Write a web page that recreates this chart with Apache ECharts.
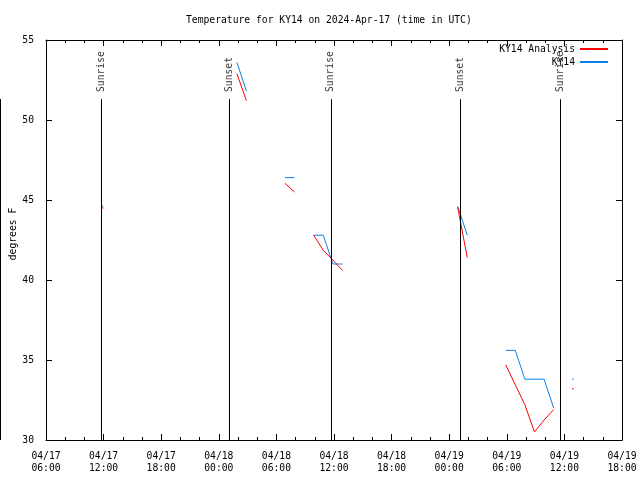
<!DOCTYPE html>
<html>
<head>
<meta charset="utf-8">
<script src="https://cdn.jsdelivr.net/npm/echarts@6/dist/echarts.min.js"></script>
<style>html,body{margin:0;padding:0;background:#fff}#c{width:640px;height:480px}</style>
</head>
<body>
<div id="c"></div>
<script>
// Observation times (UTC)
const obsTimes = [
  '2024-04-17 11:53',
  '2024-04-18 01:53','2024-04-18 02:53',
  '2024-04-18 06:53','2024-04-18 07:53',
  '2024-04-18 09:53','2024-04-18 10:53','2024-04-18 11:53','2024-04-18 12:53',
  '2024-04-19 00:53','2024-04-19 01:53',
  '2024-04-19 05:53','2024-04-19 06:53','2024-04-19 07:53','2024-04-19 08:53','2024-04-19 09:53','2024-04-19 10:53',
  '2024-04-19 12:53'
];
const ky14 = [44.6, 53.6, 51.8, 46.4, 46.4, 42.8, 42.8, 41.0, 41.0, 44.6, 42.8, 35.6, 35.6, 33.8, 33.8, 33.8, 32.0, 33.8];
const ky14Analysis = [44.5, 52.9, 51.2, 46.05, 45.5, 42.8, 41.85, 41.25, 40.6, 44.55, 41.4, 34.7, 33.45, 32.2, 30.5, 31.25, 31.9, 33.2];

const sunNames = ['Sunrise','Sunset','Sunrise','Sunset','Sunrise'];
const sunTimes = ['2024-04-17 11:44','2024-04-18 01:04','2024-04-18 11:40','2024-04-19 01:09','2024-04-19 11:34'];

const xTickLabels = ['04/17\n06:00','04/17\n12:00','04/17\n18:00','04/18\n00:00','04/18\n06:00','04/18\n12:00','04/18\n18:00','04/19\n00:00','04/19\n06:00','04/19\n12:00','04/19\n18:00'];
const yTicks = [30, 35, 40, 45, 50, 55];

const FONT = 'DejaVu Sans Mono';
const FS = 9.7;
const BASE = Date.UTC(2024, 3, 17);
function toHours(s) {
  const [d, t] = s.split(' ');
  const [Y, M, D] = d.split('-').map(Number);
  const [h, m] = t.split(':').map(Number);
  return (Date.UTC(Y, M - 1, D, h, m) - BASE) / 3600000;
}
const xs = obsTimes.map(toHours);
function buildLine(vals) {
  const out = [];
  for (let i = 0; i < xs.length; i++) {
    if (i > 0 && xs[i] - xs[i - 1] > 1.5) out.push([(xs[i] + xs[i - 1]) / 2, '-']);
    out.push([xs[i], vals[i]]);
  }
  return out;
}
function isolated(vals) {
  const out = [];
  for (let i = 0; i < xs.length; i++) {
    const prevGap = i === 0 || xs[i] - xs[i - 1] > 1.5;
    const nextGap = i === xs.length - 1 || xs[i + 1] - xs[i] > 1.5;
    if (prevGap && nextGap) out.push([xs[i], vals[i]]);
  }
  return out;
}
const xMin = 6, xMax = 66, xInt = 6;
const sunLineTop = 51.3, sunLabelBase = 51.75;

const RED = '#ff0000', BLUE = '#0a80e8';
const chart = echarts.init(document.getElementById('c'), null, {renderer: 'canvas'});
const axisCommon = {
  type: 'value', min: xMin, max: xMax, interval: xInt,
  axisLine: {show: true, onZero: false, lineStyle: {color: '#000', width: 1}},
  axisTick: {show: true, inside: true, length: 6, lineStyle: {color: '#000'}},
  minorTick: {show: true, splitNumber: 3, length: 3, lineStyle: {color: '#000'}},
  splitLine: {show: false}
};
const yCommon = {
  type: 'value', min: yTicks[0], max: yTicks[yTicks.length - 1], interval: 5,
  axisLine: {show: true, onZero: false, lineStyle: {color: '#000', width: 1}},
  axisTick: {show: true, inside: true, length: 6, lineStyle: {color: '#000'}},
  splitLine: {show: false}
};
const legendCommon = {
  orient: 'vertical', align: 'right', right: 31, itemWidth: 28, itemHeight: 10,
  selectedMode: false, padding: 0, itemGap: 0,
  itemStyle: {opacity: 0},
  textStyle: {fontFamily: FONT, fontSize: FS, color: '#000'}
};
chart.setOption({
  animation: false,
  backgroundColor: '#fff',
  title: {
    text: 'Temperature for KY14 on 2024-Apr-17 (time in UTC)',
    left: 186, top: 15, padding: 0,
    textStyle: {fontFamily: FONT, fontSize: FS, fontWeight: 'normal', color: '#000'}
  },
  legend: [
    Object.assign({}, legendCommon, {data: ['KY14 Analysis'], top: 44}),
    Object.assign({}, legendCommon, {data: ['KY14'], top: 57})
  ],
  grid: {left: 46, right: 18, top: 40, bottom: 40, containLabel: false, outerBoundsMode: 'none'},
  xAxis: [
    Object.assign({}, axisCommon, {
      position: 'bottom',
      axisLabel: {
        margin: 10, fontFamily: FONT, fontSize: FS, lineHeight: 12, color: '#000',
        formatter: v => xTickLabels[Math.round((v - xMin) / xInt)] || ''
      }
    }),
    Object.assign({}, axisCommon, {position: 'top', axisLabel: {show: false}})
  ],
  yAxis: [
    Object.assign({}, yCommon, {
      position: 'left',
      name: 'degrees F', nameLocation: 'middle', nameGap: 28, nameRotate: 90,
      nameMoveOverlap: false,
      nameTextStyle: {fontFamily: FONT, fontSize: FS, color: '#000', padding: [0, 0, 0, 12]},
      axisLabel: {margin: 12, fontFamily: FONT, fontSize: FS, color: '#000'}
    }),
    Object.assign({}, yCommon, {position: 'right', axisLabel: {show: false}})
  ],
  graphic: [{
    type: 'line', shape: {x1: 0.5, y1: 99, x2: 0.5, y2: 440},
    style: {stroke: '#000', lineWidth: 1}, silent: true
  }],
  series: [
    {
      name: 'KY14 Analysis', type: 'line', data: buildLine(ky14Analysis),
      showSymbol: false, symbol: 'none', connectNulls: false,
      lineStyle: {color: RED, width: 1}, itemStyle: {color: RED}, z: 3
    },
    {
      name: 'KY14', type: 'line', data: buildLine(ky14),
      showSymbol: false, symbol: 'none', connectNulls: false,
      lineStyle: {color: BLUE, width: 1}, itemStyle: {color: BLUE}, z: 2
    },
    {
      name: 'iso-red', type: 'scatter', data: isolated(ky14Analysis),
      symbol: 'rect', symbolSize: 1.5, itemStyle: {color: RED}, silent: true
    },
    {
      name: 'iso-blue', type: 'scatter', data: isolated(ky14),
      symbol: 'rect', symbolSize: 1.5, itemStyle: {color: BLUE}, silent: true
    },
    {
      name: 'sun', type: 'line', data: [], silent: true,
      markLine: {
        silent: true, symbol: ['none', 'none'], animation: false,
        label: {show: false},
        lineStyle: {color: '#000', width: 1, type: 'solid'},
        data: sunTimes.map(t => [{coord: [toHours(t), sunLineTop]}, {coord: [toHours(t), yTicks[0]]}])
      }
    },
    {
      name: 'sunLabels', type: 'scatter', silent: true, symbolSize: 0,
      data: sunTimes.map((t, i) => ({value: [toHours(t), sunLabelBase], name: sunNames[i]})),
      label: {
        show: true, position: 'inside', rotate: 90, align: 'left', verticalAlign: 'middle',
        formatter: p => p.name, fontFamily: FONT, fontSize: FS, color: '#000'
      }
    }
  ]
});
</script>
</body>
</html>
